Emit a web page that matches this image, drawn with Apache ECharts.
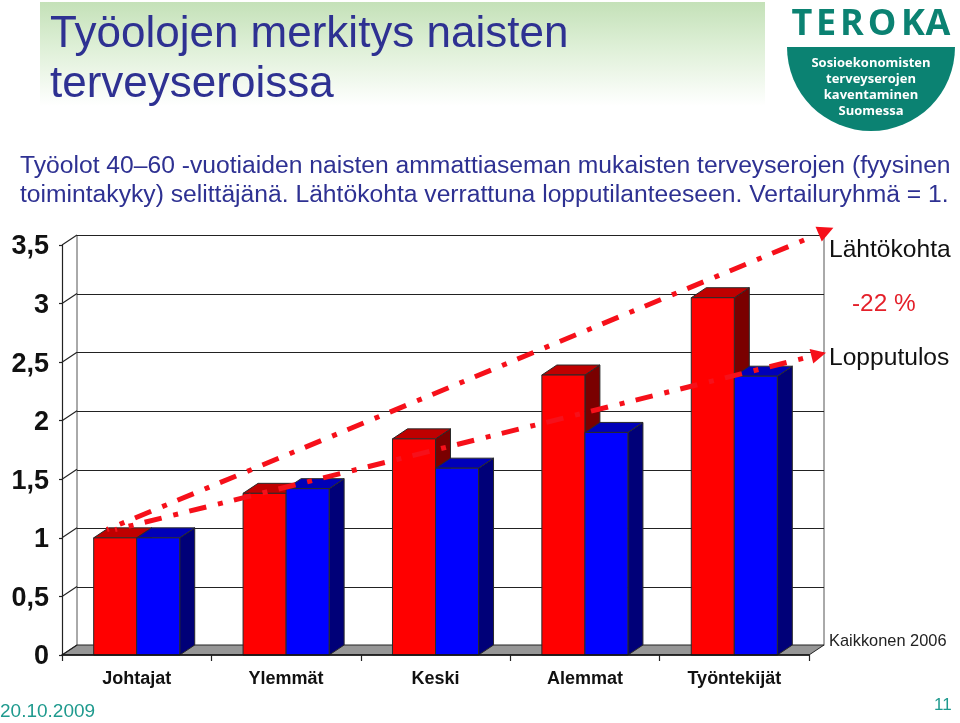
<!DOCTYPE html>
<html><head><meta charset="utf-8">
<style>html,body{margin:0;padding:0;background:#fff}#c{width:960px;height:723px}</style>
<script src="https://cdn.jsdelivr.net/npm/echarts@6/dist/echarts.min.js"></script>
</head><body><div id="c"></div>
<script>
const categories = ['Johtajat','Ylemmät','Keski','Alemmat','Työntekijät'];
const lahtokohta = [1.0, 1.38, 1.845, 2.39, 3.05];
const lopputulos = [1.0, 1.42, 1.595, 1.90, 2.38];
const yTicks = [0,0.5,1,1.5,2,2.5,3,3.5];
const trendUpper = [[-0.2,1.07],[4.614,3.62]];
const trendLower = [[-0.145,1.07],[4.565,2.565]];

const DX = 15, DY = 10;
const FONT = 'Liberation Sans, Arial, sans-serif';
const LOGOFONT = 'Open Sans, sans-serif';
const NAVY = '#2e3192', TEAL = '#1f9a8e', LOGO = '#0b8272', ARROW = '#f6101a';

function barSeries(name, values, offsetDir, front, top, side){
  return {
    type:'custom', name, xAxisIndex:0, yAxisIndex:0, z:5,
    data: values.map((v,i)=>[i,v]),
    encode:{x:0,y:1},
    renderItem(params, api){
      const p = api.coord([api.value(0), api.value(1)]);
      const b = api.coord([api.value(0), 0]);
      const w = api.size([1,0])[0]*0.288;
      const x0 = offsetDir<0 ? p[0]-w : p[0], x1 = x0+w, yt = p[1], yb = b[1];
      const st = f => ({fill:f, stroke:'#2a2a2a', lineWidth:1});
      return {type:'group', children:[
        {type:'polygon', shape:{points:[[x1,yb],[x1+DX,yb-DY],[x1+DX,yt-DY],[x1,yt]]}, style:st(side)},
        {type:'polygon', shape:{points:[[x0,yt],[x0+DX,yt-DY],[x1+DX,yt-DY],[x1,yt]]}, style:st(top)},
        {type:'rect', shape:{x:x0,y:yt,width:w,height:yb-yt}, style:st(front)}
      ]};
    }
  };
}
function trend(name, pts, rot, size){
  return {
    type:'line', name, xAxisIndex:1, yAxisIndex:0, z:8, clip:false, silent:true,
    showSymbol:true,
    data:[{value:pts[0],symbol:'none'},
          {value:pts[1],symbol:'triangle',symbolSize:size,symbolRotate:rot,itemStyle:{color:ARROW}}],
    lineStyle:{color:ARROW,width:5,cap:'butt',type:[17.5,12,5,11.5],dashOffset:15.5}
  };
}
const floorSeries = {
  type:'custom', name:'Lattia', xAxisIndex:0, yAxisIndex:0, z:2, silent:true,
  data:[[0,0]], encode:{x:0,y:1},
  renderItem(params, api){
    const c = params.coordSys, yb = api.coord([0,0])[1], l = c.x, r = c.x+c.width;
    return {type:'polygon', shape:{points:[[l,yb],[l+DX,yb-DY],[r+DX,yb-DY],[r,yb]]},
      style:{fill:'#969696',stroke:'#222',lineWidth:1}};
  }
};
const sideTicks = {
  type:'custom', name:'Asteikko', xAxisIndex:0, yAxisIndex:0, z:3, silent:true,
  data:yTicks.map(t=>[0,t]), encode:{x:0,y:1},
  renderItem(params, api){
    const c = params.coordSys, y = api.coord([0,api.value(1)])[1];
    return {type:'line', shape:{x1:c.x,y1:y,x2:c.x+DX,y2:y-DY},
      style:{stroke:'#222',lineWidth:1.2}};
  }
};
const txt = (text,x,y,size,fill,extra)=>({type:'text',x,y,z:20,
  style:Object.assign({text,fontFamily:FONT,fontSize:size,fill,verticalAlign:'middle'},extra||{})});
const logoText = (text,x,y,size,fill)=>txt(text,x,y,size,fill,{fontWeight:'bold',fontFamily:LOGOFONT,align:'center'});

const chart = echarts.init(document.getElementById('c'),null,{renderer:'canvas'});
chart.setOption({
  animation:false, backgroundColor:'#fff',
  title:[
    {text:'Työolojen merkitys naisten\nterveyseroissa',left:45,top:5,
     textStyle:{fontFamily:FONT,fontSize:44,fontWeight:'normal',color:NAVY,lineHeight:50}},
    {text:'Työolot 40–60 -vuotiaiden naisten ammattiaseman mukaisten terveyserojen (fyysinen\ntoimintakyky) selittäjänä. Lähtökohta verrattuna lopputilanteeseen. Vertailuryhmä = 1.',left:15,top:147,
     textStyle:{fontFamily:FONT,fontSize:24.66,fontWeight:'normal',color:NAVY,lineHeight:28.5}}
  ],
  grid:[
    {left:62,width:747,top:245,height:410,show:false},
    {left:77,width:747,top:235.5,height:410,show:true,borderColor:'#555',borderWidth:1,backgroundColor:'#fff',z:0}
  ],
  xAxis:[
    {type:'category',gridIndex:0,data:categories,z:6,
     axisLine:{show:true,lineStyle:{color:'#111',width:1.5}},
     axisTick:{show:true,length:6,alignWithLabel:false,lineStyle:{color:'#222',width:1.2}},
     axisLabel:{interval:0,margin:15,fontFamily:FONT,fontSize:18,fontWeight:'bold',color:'#111'}},
    {type:'value',gridIndex:0,min:-0.5,max:4.5,show:false},
    {type:'category',gridIndex:1,data:categories,show:false}
  ],
  yAxis:[
    {type:'value',gridIndex:0,min:0,max:3.5,interval:0.5,
     axisLine:{show:true,onZero:false,lineStyle:{color:'#222',width:1.2}},
     axisTick:{show:true,length:3,lineStyle:{color:'#222',width:1.2}},splitLine:{show:false},
     axisLabel:{margin:13,color:'#111',
       formatter:v=>'{a|'+String(v).replace('.',',')+'}',
       rich:{a:{padding:[4,0,0,0],fontFamily:FONT,fontSize:27,fontWeight:'bold',color:'#111'}}}},
    {type:'value',gridIndex:1,min:0,max:3.5,interval:0.5,
     axisLine:{show:false},axisTick:{show:false},axisLabel:{show:false},
     splitLine:{show:true,lineStyle:{color:'#222',width:1.2}}}
  ],
  series:[
    floorSeries, sideTicks,
    barSeries('Lähtökohta',lahtokohta,-1,'#ff0000','#bf0000','#7a0000'),
    barSeries('Lopputulos',lopputulos,1,'#0000ff','#0000b8','#000078'),
    trend('Lähtökohta, suunta',trendUpper,-67,[16,16]),
    trend('Lopputulos, suunta',trendLower,-76,[15,15])
  ],
  graphic:[
    {type:'rect',z:-1,silent:true,shape:{x:40,y:2,width:725,height:104},
     style:{fill:new echarts.graphic.LinearGradient(0,0,0,1,[{offset:0,color:'#c4e1b8'},{offset:0.45,color:'#dff0d8'},{offset:1,color:'#ffffff'}])}},
    {type:'sector',z:10,silent:true,shape:{cx:871,cy:47,r:84,startAngle:0,endAngle:Math.PI},style:{fill:LOGO}},
    logoText('T',802,24.5,36,LOGO), logoText('E',826,24.5,36,LOGO), logoText('R',852,24.5,36,LOGO),
    logoText('O',882,24.5,36,LOGO), logoText('K',913,24.5,36,LOGO), logoText('A',938,24.5,36,LOGO),
    logoText('Sosioekonomisten',871,63,13,'#fff'),
    logoText('terveyserojen',871,79,13,'#fff'),
    logoText('kaventaminen',871,95,13,'#fff'),
    logoText('Suomessa',871,111,13,'#fff'),
    txt('Lähtökohta',829,250,24.6,'#111'),
    txt('-22 %',852,304,24.4,'#e4202a'),
    txt('Lopputulos',829,358,24.6,'#111'),
    txt('Kaikkonen 2006',829,641,16.4,'#222'),
    txt('20.10.2009',0,712,19,TEAL),
    txt('11',934,705,17,TEAL)
  ]
});
</script></body></html>
